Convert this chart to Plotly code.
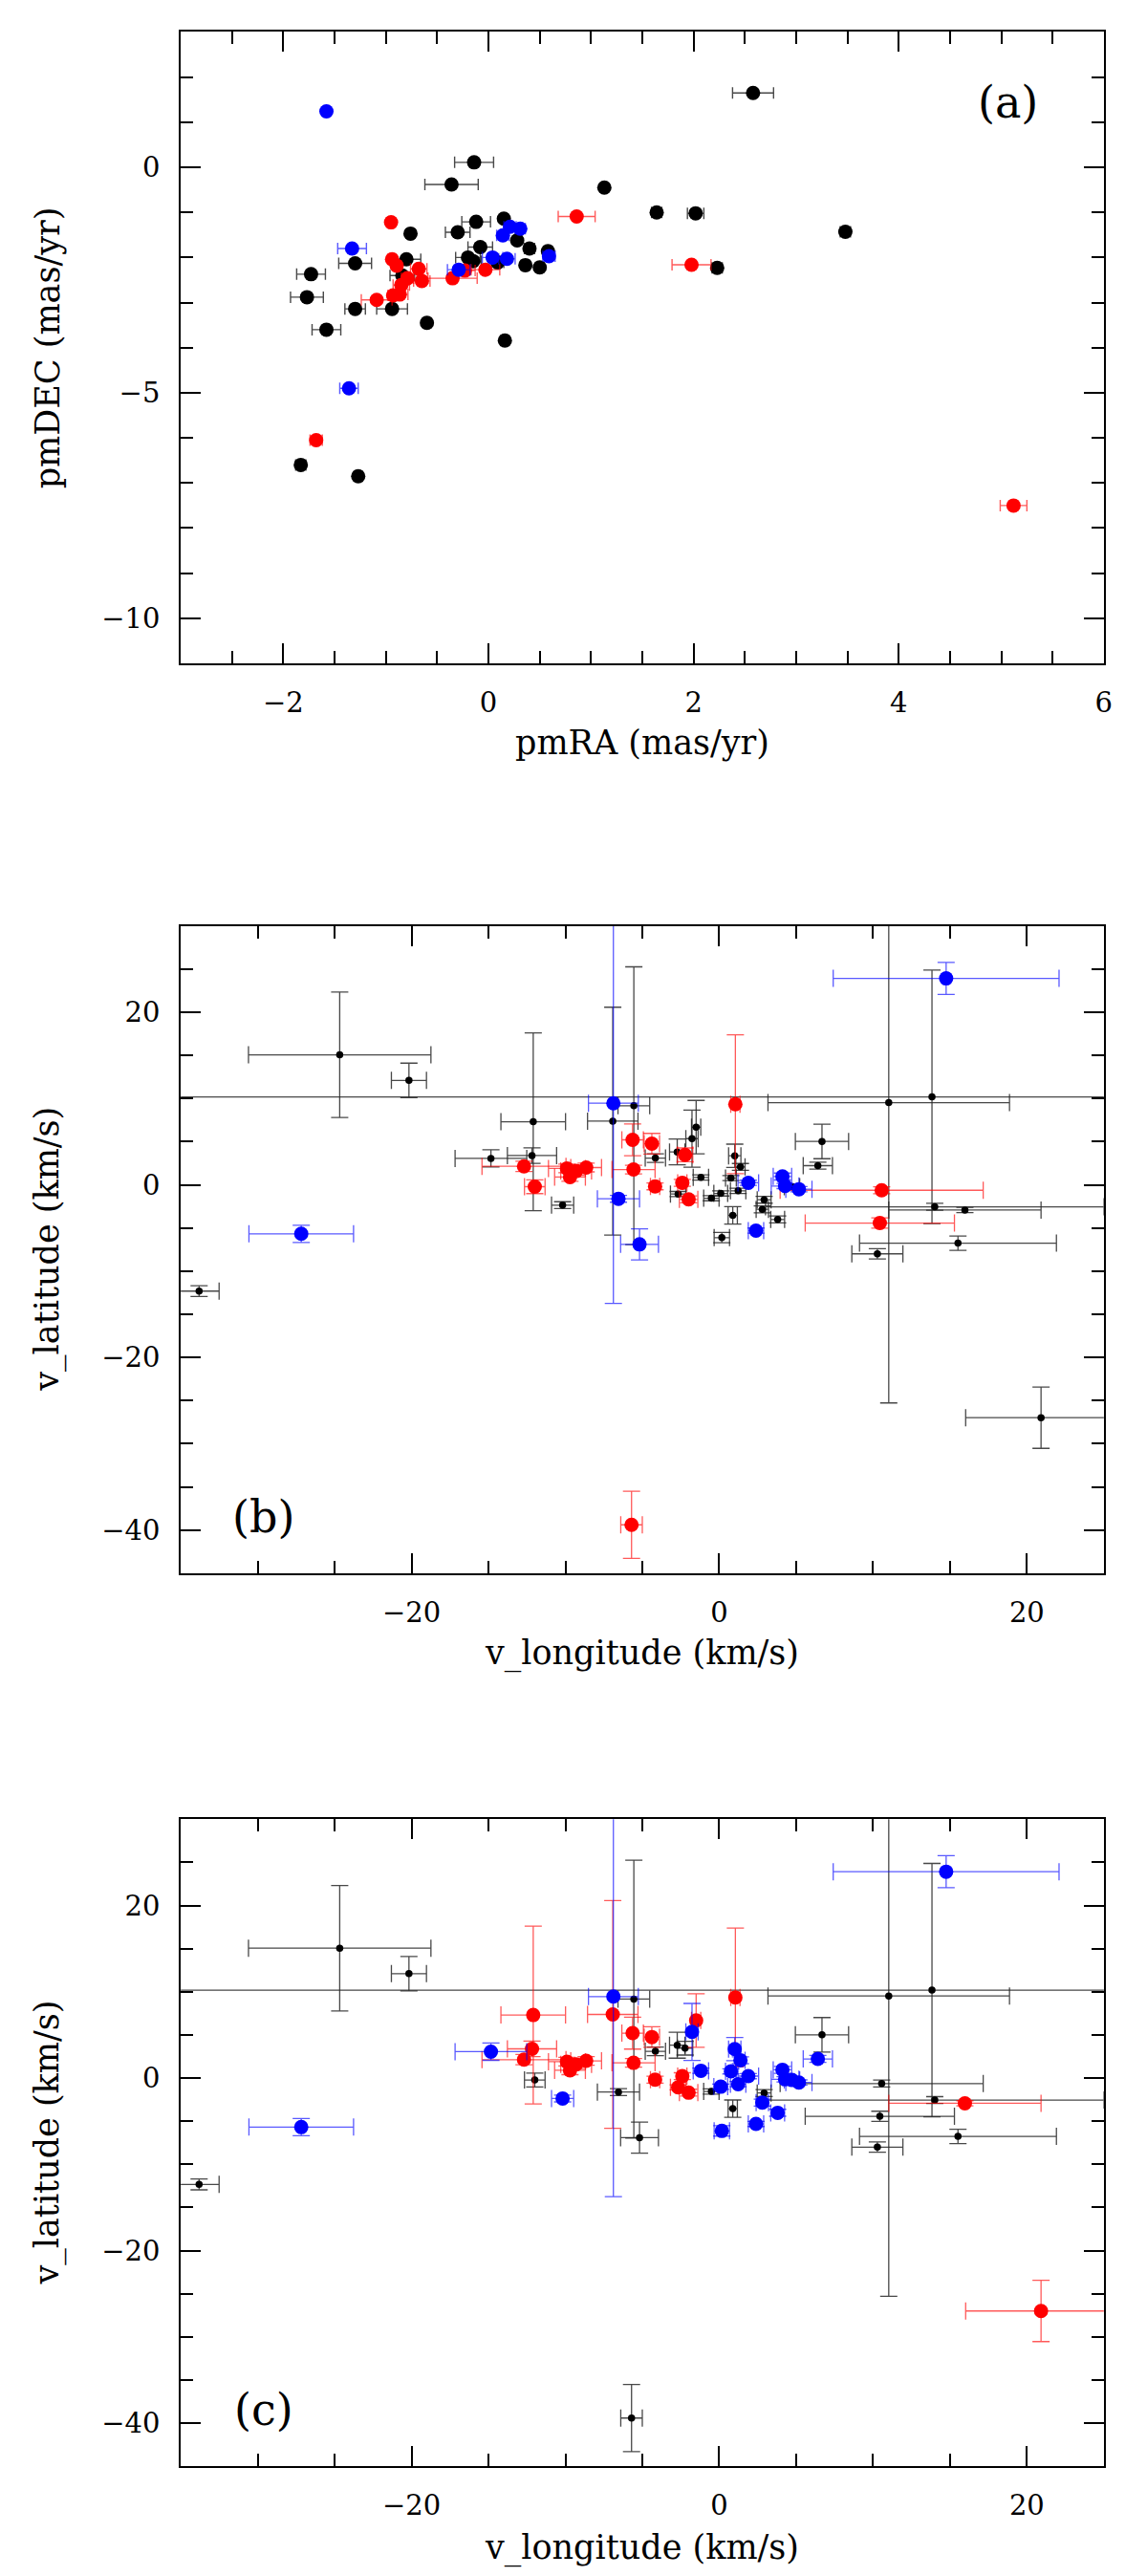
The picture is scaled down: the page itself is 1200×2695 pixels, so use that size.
import plotly.graph_objects as go
from plotly.subplots import make_subplots

# ---------------- Panel (a): proper motions ----------------
a_black_pmra = [2.58, -0.14, -0.36, 1.13, 1.64, 2.02, 3.48, -0.12, 0.15, -0.76, -0.30, -0.08,
                0.28, 0.40, 0.58, -0.80, -1.30, -1.73, -1.77, -1.30, -0.94, -1.58, -0.60, 0.16,
                0.36, 0.50, -0.20, -0.15, 0.09, -0.84, 2.23, -1.83, -1.27]
a_black_pmdec = [1.65, 0.11, -0.38, -0.45, -1.00, -1.02, -1.43, -1.21, -1.14, -1.47, -1.44, -1.77,
                 -1.62, -1.80, -1.86, -2.04, -2.13, -2.37, -2.88, -3.14, -3.14, -3.60, -3.45, -3.84,
                 -2.17, -2.22, -2.00, -2.08, -2.11, -2.40, -2.23, -6.60, -6.85]
a_black_err = [0.20, 0.19, 0.26, 0.03, 0.05, 0.08, 0.05, 0.14, 0.03, 0.03, 0.12, 0.12,
               0.03, 0.05, 0.04, 0.14, 0.16, 0.14, 0.16, 0.10, 0.15, 0.14, 0.04, 0.04,
               0.04, 0.04, 0.12, 0.08, 0.06, 0.12, 0.05, 0.05, 0.04]

a_red_pmra = [-0.95, -0.94, -0.895, -0.68, -0.65, -0.79, -0.85, -0.865, -0.93, -1.09, -0.35,
              -0.23, -0.03, 0.86, 1.98, -1.68, 5.12]
a_red_pmdec = [-1.22, -2.04, -2.18, -2.25, -2.52, -2.46, -2.61, -2.82, -2.84, -2.94, -2.46,
               -2.29, -2.27, -1.09, -2.16, -6.05, -7.50]
a_red_err = [0.03, 0.04, 0.04, 0.08, 0.08, 0.06, 0.08, 0.08, 0.05, 0.15, 0.24,
             0.10, 0.14, 0.18, 0.19, 0.06, 0.13]

a_blue_pmra = [-1.58, -1.33, -1.36, -0.29, 0.04, 0.18, 0.59, 0.14, 0.21, 0.31]
a_blue_pmdec = [1.24, -1.80, -4.90, -2.27, -2.00, -2.03, -1.97, -1.51, -1.32, -1.36]
a_blue_err = [0.03, 0.14, 0.09, 0.11, 0.10, 0.08, 0.06, 0.06, 0.06, 0.05]

# ---------------- Panels (b) and (c): same stars, two classifications ----------------
v_long = [-24.67, -20.17, -12.09, -14.84, -12.17, -12.69, -11.99, -9.90, -9.70, -9.30,
          -8.65, -10.18, -27.17, -33.81, -6.88, -5.55, -6.92, -5.63, -4.38, -4.15,
          -5.57, -4.17, -6.55, -5.18, -2.73, -1.77, -1.50, -2.22, -2.40, -1.99,
          -2.67, -1.19, -0.51, 0.10, 0.17, 1.05, 1.01, 1.38, 0.76, 1.23,
          0.88, 1.89, 4.11, 4.28, 5.18, 4.73, 2.39, 2.92, 2.80, 3.80,
          6.41, 6.68, 10.56, 10.44, 11.02, 13.83, 14.01, 15.97, 15.52, 10.28,
          20.92, 14.75, -5.70]
v_lat = [15.06, 12.10, 7.31, 3.06, 3.39, 2.14, -0.22, 1.90, 0.90, 1.60,
         2.00, -2.36, -5.68, -12.32, 9.45, 9.16, 7.38, 5.21, 4.76, 3.10,
         1.77, -0.18, -1.62, -6.90, 3.81, 5.35, 6.68, 3.47, 0.22, -1.69,
         -1.07, 0.85, -1.55, -1.00, -6.12, 9.34, 3.36, 2.07, 0.78, -0.70,
         -3.54, 0.23, 0.96, -0.14, -0.51, -0.22, -5.31, -1.73, -2.84, -4.02,
         2.22, 5.02, -0.63, -4.43, 9.52, 10.19, -2.55, -2.92, -6.76, -8.00,
         -26.99, 23.92, -39.40]
e_long = [5.93, 1.14, 2.10, 2.33, 1.60, 2.73, 0.67, 1.20, 1.00, 1.00,
          1.00, 0.72, 3.40, 1.30, 1.62, 1.03, 1.64, 0.70, 0.50, 0.66,
          1.40, 0.30, 1.37, 1.23, 0.50, 0.40, 0.30, 0.50, 0.30, 0.60,
          0.50, 0.50, 0.50, 0.45, 0.50, 0.30, 0.40, 0.30, 0.35, 0.50,
          0.30, 0.67, 0.60, 0.90, 0.85, 0.50, 0.50, 0.45, 0.40, 0.45,
          0.95, 1.73, 6.60, 4.85, 7.85, 50.0, 11.0, 4.95, 6.40, 1.66,
          4.90, 7.34, 0.70]
e_lat = [7.27, 2.00, 10.30, 1.00, 0.90, 0.60, 0.80, 0.50, 0.50, 0.50,
         0.50, 0.40, 1.00, 0.63, 23.2, 16.1, 13.2, 1.85, 1.20, 0.50,
         0.50, 0.40, 0.40, 1.80, 1.50, 3.30, 3.10, 0.80, 0.40, 0.40,
         0.30, 0.30, 0.30, 0.30, 0.60, 8.05, 1.35, 0.40, 0.30, 0.30,
         1.00, 0.30, 0.40, 0.30, 0.30, 0.30, 0.30, 0.40, 0.40, 0.40,
         0.40, 2.00, 0.40, 0.59, 34.8, 14.69, 0.40, 0.30, 0.83, 0.60,
         3.55, 1.85, 3.90]
class_b = ['k', 'k', 'k', 'k', 'k', 'r', 'r', 'r', 'r', 'r',
           'r', 'k', 'b', 'k', 'b', 'k', 'k', 'r', 'r', 'k',
           'r', 'r', 'b', 'b', 'k', 'k', 'k', 'r', 'r', 'r',
           'k', 'k', 'k', 'k', 'k', 'r', 'k', 'k', 'k', 'k',
           'k', 'b', 'b', 'b', 'b', 'k', 'b', 'k', 'k', 'k',
           'k', 'k', 'r', 'r', 'k', 'k', 'k', 'k', 'k', 'k',
           'k', 'b', 'r']
class_c = ['k', 'k', 'r', 'b', 'r', 'r', 'k', 'r', 'r', 'r',
           'r', 'b', 'b', 'k', 'b', 'k', 'r', 'r', 'r', 'k',
           'r', 'r', 'k', 'k', 'k', 'b', 'r', 'k', 'r', 'r',
           'r', 'b', 'k', 'b', 'b', 'r', 'b', 'b', 'b', 'b',
           'k', 'b', 'b', 'b', 'b', 'b', 'b', 'k', 'b', 'b',
           'b', 'k', 'k', 'k', 'k', 'k', 'k', 'r', 'k', 'k',
           'r', 'b', 'k']

panel_labels = ['(a)', '(b)', '(c)']
x_titles = ['pmRA (mas/yr)', 'v_longitude (km/s)', 'v_longitude (km/s)']
y_titles = ['pmDEC (mas/yr)', 'v_latitude (km/s)', 'v_latitude (km/s)']

# ---------------- styling ----------------
FONT = 'DejaVu Serif'
COL = {'k': '#000000', 'r': '#ff0000', 'b': '#0000ff'}
ERRCOL = {'k': 'rgba(40,40,40,0.85)', 'r': 'rgba(255,0,0,0.65)', 'b': 'rgba(0,0,255,0.65)'}

fig = make_subplots(rows=3, cols=1)


def add_a(xs, ys, ex, c):
    fig.add_trace(go.Scatter(
        x=xs, y=ys, mode='markers',
        marker=dict(color=COL[c], size=15, line=dict(width=0)),
        error_x=dict(type='data', array=ex, visible=True, color=ERRCOL[c], thickness=1.4, width=6),
        showlegend=False, hoverinfo='skip'), row=1, col=1)


add_a(a_black_pmra, a_black_pmdec, a_black_err, 'k')
add_a(a_red_pmra, a_red_pmdec, a_red_err, 'r')
add_a(a_blue_pmra, a_blue_pmdec, a_blue_err, 'b')

for row, cls in ((2, class_b), (3, class_c)):
    for c in 'krb':
        idx = [i for i, k in enumerate(cls) if k == c]
        fig.add_trace(go.Scatter(
            x=[v_long[i] for i in idx], y=[v_lat[i] for i in idx], mode='markers',
            marker=dict(color=COL[c], size=7.5 if c == 'k' else 15, line=dict(width=0)),
            error_x=dict(type='data', array=[e_long[i] for i in idx], visible=True,
                         color=ERRCOL[c], thickness=1.3, width=9),
            error_y=dict(type='data', array=[e_lat[i] for i in idx], visible=True,
                         color=ERRCOL[c], thickness=1.3, width=9),
            showlegend=False, hoverinfo='skip'), row=row, col=1)

axis_common = dict(
    showline=True, linecolor='black', linewidth=2, mirror='allticks',
    ticks='inside', ticklen=21, tickwidth=2, tickcolor='black',
    showgrid=False, zeroline=False,
    tickfont=dict(family=FONT, size=29, color='black'),
)
XDOM = [0.1521, 0.9629]
YDOMS = [[0.74545, 0.99054], [0.39228, 0.64353], [0.04553, 0.29674]]

fig.update_xaxes(**axis_common, ticklabelstandoff=14)
fig.update_yaxes(**axis_common, ticklabelstandoff=14)

fig.update_xaxes(row=1, col=1, range=[-3, 6], tick0=0, dtick=2, domain=XDOM,
                 minor=dict(ticks='inside', ticklen=13, tickwidth=2, tickcolor='black', dtick=0.5, tick0=0, showgrid=False))
fig.update_yaxes(row=1, col=1, range=[-11, 3], tick0=0, dtick=5, domain=YDOMS[0],
                 minor=dict(ticks='inside', ticklen=13, tickwidth=2, tickcolor='black', dtick=1, tick0=0, showgrid=False))
for r in (2, 3):
    fig.update_xaxes(row=r, col=1, range=[-35, 25], tick0=0, dtick=20, domain=XDOM,
                     minor=dict(ticks='inside', ticklen=13, tickwidth=2, tickcolor='black', dtick=5, tick0=0, showgrid=False))
    fig.update_yaxes(row=r, col=1, range=[-45, 30], tick0=0, dtick=20, domain=YDOMS[r - 1],
                     minor=dict(ticks='inside', ticklen=13, tickwidth=2, tickcolor='black', dtick=5, tick0=0, showgrid=False))

annotations = []
xt_y = [0.71466, 0.36141, 0.0141]
yt_y = [0.86802, 0.5180, 0.17113]
for i in range(3):
    annotations.append(dict(text=x_titles[i], xref='paper', yref='paper', x=0.5575, y=xt_y[i],
                            xanchor='center', yanchor='middle', showarrow=False,
                            font=dict(family=FONT, size=35, color='black')))
    annotations.append(dict(text=y_titles[i], xref='paper', yref='paper', x=0.035, y=yt_y[i],
                            xanchor='center', yanchor='middle', showarrow=False, textangle=-90,
                            font=dict(family=FONT, size=35, color='black')))
lab_pos = [(0.8957, 0.888), (0.0894, 0.0869), (0.0899, 0.0877)]
for i, (lx, ly) in enumerate(lab_pos):
    xr = 'x domain' if i == 0 else 'x%d domain' % (i + 1)
    yr = 'y domain' if i == 0 else 'y%d domain' % (i + 1)
    annotations.append(dict(text=panel_labels[i], xref=xr, yref=yr, x=lx, y=ly,
                            xanchor='center', yanchor='middle', showarrow=False,
                            font=dict(family=FONT, size=46, color='black')))

fig.update_layout(
    width=1200, height=2695,
    margin=dict(l=0, r=0, t=0, b=0),
    plot_bgcolor='white', paper_bgcolor='white',
    annotations=annotations,
    showlegend=False,
)

fig.write_html('out.html')
